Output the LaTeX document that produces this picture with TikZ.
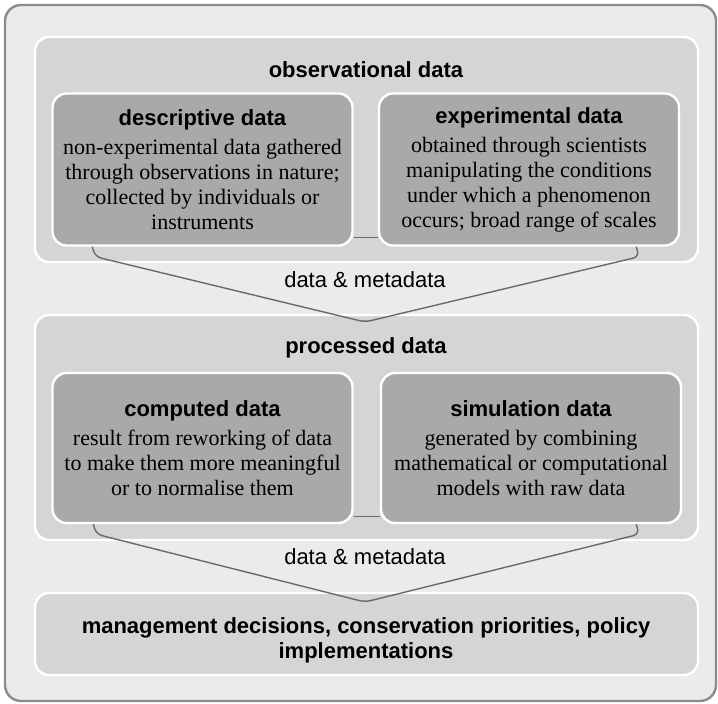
\documentclass[tikz,border=0pt]{standalone}
\usepackage{fontspec}
\setmainfont{Liberation Serif}
\setsansfont{Liberation Sans}
\usepackage{xcolor}
\usetikzlibrary{positioning,calc}

\definecolor{framegray}{HTML}{8C8C8C}
\definecolor{outerfill}{HTML}{EBEBEB}
\definecolor{panelfill}{HTML}{D5D5D5}
\definecolor{datafill}{HTML}{A9A9A9}
\definecolor{linegray}{HTML}{6A6A6A}

\begin{document}
\begin{tikzpicture}[
  x=0.5pt,y=-0.5pt,
  frame/.style={draw=framegray,line width=1.2pt,fill=outerfill,rounded corners=8pt,minimum width=355.5pt,minimum height=348pt},
  panel/.style={draw=white,line width=1.2pt,fill=panelfill,rounded corners=7pt,minimum width=331.5pt,minimum height=112.5pt,inner sep=0pt},
  databox/.style={draw=white,line width=1.2pt,fill=datafill,rounded corners=7pt,minimum width=150pt,minimum height=76pt,align=center,inner sep=2pt,font=\fontsize{11}{12.5}\selectfont},
  title/.style={font=\sffamily\bfseries\fontsize{11}{12.5}\selectfont,align=center},
  flowlabel/.style={font=\sffamily\fontsize{11}{12.5}\selectfont},
  flow/.style={draw=linegray,line width=0.7pt,rounded corners=3pt},
  bridge/.style={draw=linegray,line width=0.6pt}
]
\useasboundingbox (0,0) rectangle (718,703);
% background frame and panels
\node[frame] (frame) at (360.5,353) {};
\node[panel] (obs)  at (366.5,149.5) {};
\node[panel] (proc) at (366.5,427.5) {};
\node[panel,minimum height=41pt] (mgmt) at (366.5,634) {};
\node[title] (obsT)  at (366,70)  {observational data};
\node[title] (procT) at (366,348) {processed data};
\node[title] (mgmtT) at (366,640) {management decisions, conservation priorities, policy\\implementations};
% data boxes
\node[databox] (desc) at (202.5,169.5) {{\sffamily\bfseries descriptive data}\\[2pt]
  non-experimental data gathered\\through observations in nature;\\collected by individuals or\\instruments};
\node[databox] (exp) at (529,169.5) {{\sffamily\bfseries experimental data}\\[2pt]
  obtained through scientists\\manipulating the conditions\\under which a phenomenon\\occurs; broad range of scales};
\node[databox,minimum height=75pt] (comp) at (202.5,448) {{\sffamily\bfseries computed data}\\[2pt]
  result from reworking of data\\to make them more meaningful\\or to normalise them};
\node[databox,minimum height=75pt] (sim) at (531,448) {{\sffamily\bfseries simulation data}\\[2pt]
  generated by combining\\mathematical or computational\\models with raw data};
% flows
\node[flowlabel] (lbl1) at (365,280) {data \& metadata};
\node[flowlabel] (lbl2) at (365,557) {data \& metadata};
\coordinate (apex1) at (365,322);
\coordinate (apex2) at (365,602);
\draw[bridge] ($(desc.south east)+(0,-9)$) -- ($(exp.south west)+(0,-9)$);
\draw[bridge] ($(comp.south east)+(0,-8)$) -- ($(sim.south west)+(0,-8)$);
\draw[flow] ($(desc.south west)+(41,0)$) -- ++(3,10) -- (apex1) -- ($(exp.south east)+(-41,10)$) -- ++(-3,-10);
\draw[flow] ($(comp.south west)+(42,0)$) -- ++(3,10) -- (apex2) -- ($(sim.south east)+(-43,10)$) -- ++(-3,-10);
\end{tikzpicture}
\end{document}
